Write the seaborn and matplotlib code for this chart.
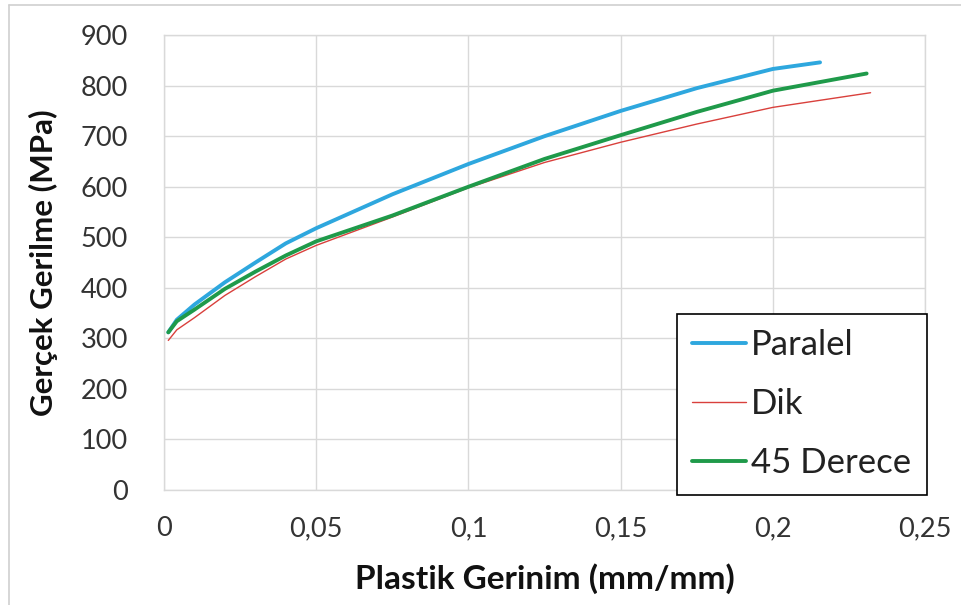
import matplotlib
matplotlib.use("Agg")
import matplotlib.pyplot as plt
import matplotlib.ticker as mticker
from matplotlib.lines import Line2D
import seaborn as sns
import pandas as pd

# plastic strain (mm/mm) and true stress (MPa)
paralel_x = [0.0014, 0.0042, 0.01, 0.02, 0.03, 0.04, 0.05, 0.075, 0.1, 0.125, 0.15, 0.175, 0.2, 0.2155]
paralel_y = [312, 337, 367, 411, 450, 488, 518, 585, 645, 700, 750, 795, 833, 846]

dik_x = [0.0014, 0.0042, 0.01, 0.02, 0.03, 0.04, 0.05, 0.075, 0.1, 0.125, 0.15, 0.175, 0.2, 0.2321]
dik_y = [296, 317, 341, 385, 422, 457, 484, 540, 598, 648, 688, 724, 757, 786]

derece_x = [0.0014, 0.0042, 0.01, 0.02, 0.03, 0.04, 0.05, 0.075, 0.1, 0.125, 0.15, 0.175, 0.2, 0.2308]
derece_y = [312, 334, 357, 398, 432, 464, 492, 543, 600, 655, 702, 748, 790, 824]

series_names = ["Paralel", "Dik", "45 Derece"]
x_ticks = [0, 0.05, 0.1, 0.15, 0.2, 0.25]
y_ticks = list(range(0, 1000, 100))

df = pd.concat([
    pd.DataFrame({"x": paralel_x, "y": paralel_y, "seri": series_names[0]}),
    pd.DataFrame({"x": dik_x, "y": dik_y, "seri": series_names[1]}),
    pd.DataFrame({"x": derece_x, "y": derece_y, "seri": series_names[2]}),
])

sns.set_style("whitegrid")
plt.rcParams['font.family'] = ['Lato', 'DejaVu Sans']

colors = {"Paralel": "#2ea7de", "Dik": "#d9403c", "45 Derece": "#1f9a4a"}
widths = {"Paralel": 2.8, "Dik": 1.0, "45 Derece": 2.8}

fig = plt.figure(figsize=(9.61, 6.05), dpi=100)
ax = fig.add_axes([0.1707, 0.190, 0.7919, 0.752])

for name in series_names:
    sns.lineplot(data=df[df["seri"] == name], x="x", y="y", ax=ax,
                 color=colors[name], linewidth=widths[name], label=name,
                 estimator=None, sort=False)

ax.set_xlim(0, 0.25)
ax.set_ylim(0, 900)
ax.set_xticks(x_ticks)
ax.set_yticks(y_ticks)
ax.xaxis.set_major_formatter(mticker.FuncFormatter(
    lambda v, p: ("%g" % round(v, 3)).replace(".", ",")))
ax.tick_params(axis="both", labelsize=19.5, colors="#333333", length=0)
ax.tick_params(axis="y", pad=26)
ax.tick_params(axis="x", pad=19)
ax.grid(True, color="#d9d9d9", linewidth=1.0)
for s in ax.spines.values():
    s.set_color("#d9d9d9")
    s.set_linewidth(1.0)

ax.set_xlabel("Plastik Gerinim (mm/mm)", fontsize=24, fontweight="bold", color="#111111")
ax.set_ylabel("Gerçek Gerilme (MPa)", fontsize=22.5, fontweight="bold", color="#111111")
ax.xaxis.set_label_coords(0.5, -0.160)
ax.yaxis.set_label_coords(-0.140, 0.5)

leg = ax.legend(loc="lower right", bbox_to_anchor=(927 / 961, 1 - 495 / 605),
                bbox_transform=fig.transFigure, borderaxespad=0, fontsize=25,
                frameon=True, fancybox=False, edgecolor="black", framealpha=1,
                handlelength=1.55, handletextpad=0.15, labelspacing=0.78,
                borderpad=0.45)
leg.get_frame().set_linewidth(1.2)
for t in leg.get_texts():
    t.set_color("#222222")

# faint chart-area border (top and left)
fig.add_artist(Line2D([9 / 961, 1], [1 - 5 / 605, 1 - 5 / 605], color="#d0d0d0", linewidth=1.2))
fig.add_artist(Line2D([9 / 961, 9 / 961], [0, 1 - 5 / 605], color="#d0d0d0", linewidth=1.2))

fig.savefig("out.png", dpi=100)
